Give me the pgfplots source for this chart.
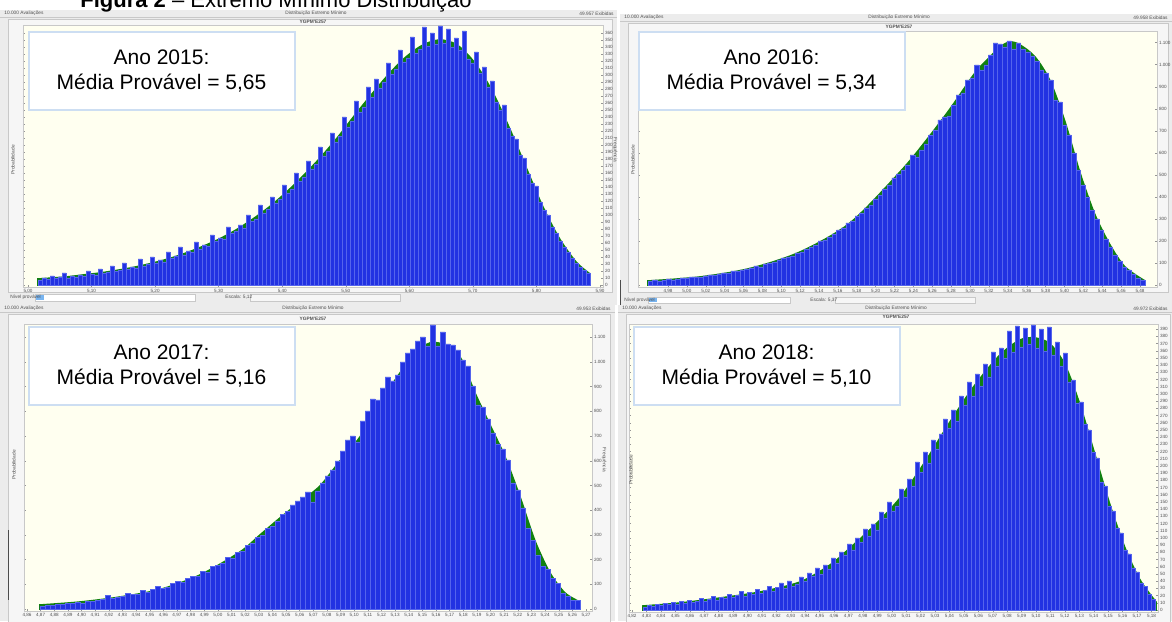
\documentclass[border=0pt]{standalone}
\usepackage{fontspec}
\setmainfont{Liberation Sans}
\usepackage{pgfplots}
\usepackage{pgfplotstable}
\pgfplotsset{compat=1.18}

\definecolor{barblue}{RGB}{34,50,226}
\definecolor{barsep}{RGB}{85,100,236}
\definecolor{fitgreen}{RGB}{16,128,16}
\definecolor{cream}{RGB}{255,255,240}
\definecolor{winbg}{RGB}{236,236,236}
\definecolor{innerbg}{RGB}{246,246,246}
\definecolor{framegray}{RGB}{200,200,200}
\definecolor{tickgray}{RGB}{150,150,150}
\definecolor{ticktext}{RGB}{80,80,80}
\definecolor{boxblue}{RGB}{205,222,242}
\definecolor{selblue}{RGB}{120,180,240}

\newcommand{\chrome}{\fontsize{2.4}{2.9}\selectfont\color{ticktext}}

% ---- data: bar heights (pixels above baseline) ----
\pgfplotstableread[row sep=\\]{h\\
5\\7\\6\\9\\7\\8\\12\\7\\9\\8\\
10\\9\\14\\11\\10\\16\\12\\13\\19\\14\\
15\\22\\16\\18\\17\\26\\19\\21\\28\\22\\
25\\23\\33\\27\\29\\38\\30\\34\\33\\43\\
36\\40\\39\\50\\44\\47\\46\\58\\52\\54\\
60\\57\\70\\64\\66\\80\\72\\76\\88\\82\\
86\\100\\92\\96\\112\\104\\108\\124\\116\\121\\
138\\129\\134\\152\\143\\149\\168\\158\\164\\184\\
173\\178\\198\\188\\206\\197\\203\\222\\211\\216\\
235\\223\\227\\248\\232\\236\\258\\239\\252\\241\\
259\\242\\256\\238\\247\\235\\254\\226\\222\\233\\
212\\218\\198\\204\\183\\175\\180\\157\\149\\146\\
130\\127\\111\\102\\99\\83\\75\\70\\58\\52\\
44\\38\\33\\27\\22\\18\\15\\12\\0\\
}\tabTL

\pgfplotstableread[row sep=\\]{h\\
4\\5\\4\\5\\6\\5\\6\\7\\7\\8\\
8\\8\\9\\10\\10\\11\\12\\12\\14\\14\\
15\\16\\17\\19\\18\\21\\22\\23\\25\\27\\
28\\29\\32\\33\\36\\38\\40\\44\\45\\48\\
51\\55\\57\\62\\64\\69\\72\\77\\80\\86\\
90\\96\\100\\107\\111\\
115\\120\\130\\128\\135\\141\\150\\155\\165\\168\\
169\\180\\190\\192\\205\\207\\220\\215\\220\\230\\
242\\241\\238\\244\\236\\242\\236\\233\\229\\224\\
215\\212\\205\\185\\183\\160\\150\\132\\115\\100\\
88\\75\\66\\55\\46\\38\\30\\24\\18\\15\\11\\7\\5\\0\\
}\tabTR

\pgfplotstableread[row sep=\\]{h\\
3\\4\\4\\5\\5\\6\\6\\7\\6\\8\\
8\\9\\10\\14\\11\\12\\13\\16\\15\\15\\
19\\17\\20\\23\\21\\22\\26\\28\\27\\31\\
33\\33\\38\\37\\43\\44\\46\\52\\51\\57\\
58\\64\\66\\72\\74\\81\\83\\88\\95\\98\\
104\\108\\
112\\117\\107\\118\\126\\133\\139\\148\\158\\169\\
173\\167\\188\\198\\210\\209\\221\\232\\228\\234\\
247\\256\\260\\268\\272\\263\\284\\263\\277\\265\\
264\\259\\249\\243\\223\\204\\202\\190\\176\\165\\
160\\149\\126\\119\\101\\81\\69\\54\\43\\40\\
31\\26\\16\\13\\9\\9\\0\\
}\tabBL

\pgfplotstableread[row sep=\\]{h\\
3\\5\\4\\6\\5\\7\\6\\8\\6\\9\\
7\\10\\8\\9\\12\\9\\11\\14\\10\\13\\
12\\16\\13\\15\\19\\14\\18\\16\\21\\17\\
20\\24\\19\\23\\27\\22\\29\\24\\26\\33\\
29\\37\\34\\42\\36\\45\\41\\52\\47\\58\\
55\\66\\60\\72\\68\\81\\74\\86\\80\\98\\
92\\108\\99\\104\\121\\113\\131\\124\\148\\138\\
158\\147\\170\\161\\176\\191\\182\\200\\189\\214\\
205\\228\\214\\236\\224\\246\\233\\258\\244\\262\\
252\\279\\258\\284\\263\\282\\266\\285\\262\\281\\
259\\283\\255\\268\\244\\257\\228\\230\\207\\208\\
186\\180\\158\\152\\128\\124\\104\\99\\82\\77\\
60\\56\\42\\38\\27\\24\\16\\11\\0\\
}\tabBR

\pgfplotsset{
  panel/.style={
    scale only axis, anchor=south west,
    axis background/.style={fill=cream},
    axis line style={draw=framegray, line width=0.4pt},
    tick style={draw=tickgray, line width=0.2pt},
    major tick length=1.2pt,
    xtick pos=left, ytick pos=both, yticklabel pos=right,
    scaled x ticks=false, scaled y ticks=false,
    tick label style={font=\fontsize{2.3}{2.8}\selectfont, text=ticktext},
    xticklabel style={inner sep=0.8pt},
    yticklabel style={inner sep=0.8pt},
    /pgf/number format/assume math mode=true,
    clip=true,
  },
  bars/.style={ybar interval, fill=barblue, draw=barsep, line width=0.12pt},
  fit/.style={fill=fitgreen, draw=fitgreen, line width=0.8pt, smooth},
}

\begin{document}
\begin{tikzpicture}
\path[use as bounding box] (0,0) rectangle (586pt,310.5pt);
\clip (0,0) rectangle (586pt,310.5pt);

% ---------- window chrome (pixel coordinates, y down) ----------
\begin{scope}[shift={(0pt,310.5pt)}, x=0.5pt, y=-0.5pt]
\fill[white] (0,0) rectangle (1172,621);
\fill[winbg] (0,10) rectangle (617,305);
\fill[winbg] (620,14) rectangle (1172,305);
\fill[winbg] (0,305) rectangle (615,621);
\fill[winbg] (618,305) rectangle (1172,621);
\draw[framegray, line width=0.3pt] (0,17.5) -- (617,17.5);
\draw[framegray, line width=0.3pt] (620,21.5) -- (1172,21.5);
\draw[framegray, line width=0.3pt] (0,312.5) -- (615,312.5);
\draw[framegray, line width=0.3pt] (618,312.5) -- (1172,312.5);
\filldraw[fill=innerbg, draw=framegray, line width=0.3pt] (8,19) rectangle (612,292);
\filldraw[fill=innerbg, draw=framegray, line width=0.3pt] (628,23) rectangle (1168,292);
\filldraw[fill=innerbg, draw=framegray, line width=0.3pt] (8,314) rectangle (610,625);
\filldraw[fill=innerbg, draw=framegray, line width=0.3pt] (626,314) rectangle (1170,625);
\draw[black!70, line width=0.5pt] (620,280) -- (620,305);
\draw[black!70, line width=0.5pt] (8,530) -- (8,600);
% bottom rows of the upper windows
\filldraw[fill=white, draw=framegray, line width=0.3pt] (35,294) rectangle (195,301);
\fill[selblue] (36,295) rectangle (44,300);
\filldraw[fill=innerbg, draw=framegray, line width=0.3pt] (250,294) rectangle (400,301);
\filldraw[fill=white, draw=framegray, line width=0.3pt] (648,297) rectangle (790,303);
\fill[selblue] (649,298) rectangle (657,302);
\filldraw[fill=innerbg, draw=framegray, line width=0.3pt] (835,297) rectangle (975,303);
\end{scope}

% ---------- 2015 ----------
\begin{axis}[panel, at={(11.5pt,167pt)}, width=290pt, height=131pt,
  xmin=23, xmax=603, ymin=-2, ymax=260,
  xtick={28,91.556,...,600.5},
  xticklabel={\pgfmathparse{5+(\tick-28)/635.56}\pgfmathprintnumber[fixed,fixed zerofill,precision=2,use comma]{\pgfmathresult}},
  ytick={0,7,...,252.5},
  yticklabel={\pgfmathparse{int(round(\tick/0.7))}\pgfmathprintnumber[1000 sep={.}]{\pgfmathresult}}]
\addplot[fit] coordinates {(38,6) (66,8) (83,10) (100,12) (117,14.6) (134,17.7) (151,21.5) (168,26) (185,31.6) (202,38.2) (219,45.8) (236,55) (253,66) (270,78.6) (287,93.3) (304,110) (321,128) (338,148) (355,170) (372,191) (389,211) (406,228) (423,240) (440,245) (457,240) (474,223) (491,196) (508,160) (525,120) (542,80) (559,47) (576,23) (590,11)} \closedcycle;
\addplot[bars] table[x expr={38+4*\coordindex}, y=h] {\tabTL};
\end{axis}

% ---------- 2016 ----------
\begin{axis}[panel, at={(319pt,167pt)}, width=259.5pt, height=128pt,
  xmin=638, xmax=1157, ymin=-2, ymax=254,
  xtick={668,686.88,...,1140.5},
  xticklabel={\pgfmathparse{4.98+(\tick-668)/944}\pgfmathprintnumber[fixed,fixed zerofill,precision=2,use comma]{\pgfmathresult}},
  ytick={0,22.03,...,243},
  yticklabel={\pgfmathparse{int(round(\tick/0.2203))}\pgfmathprintnumber[1000 sep={.}]{\pgfmathresult}}]
\addplot[fit] coordinates {(648,4) (700,8) (750,16.5) (800,33) (850,62) (900,113) (925,143) (950,176) (975,212) (990,228) (1000,238) (1010,243) (1020,240) (1035,228) (1050,204) (1065,163) (1080,112) (1095,70) (1110,40) (1125,18) (1145,4)} \closedcycle;
\addplot[bars] table[x expr={648+4.6*\coordindex}, y=h] {\tabTR};
\end{axis}

% ---------- 2017 ----------
\begin{axis}[panel, at={(12pt,5pt)}, width=284pt, height=143.5pt,
  xmin=24, xmax=592, ymin=-2, ymax=285,
  xtick={27,40.634,...,586.5},
  xticklabel={\pgfmathparse{4.86+(\tick-27)/1363.4}\pgfmathprintnumber[fixed,fixed zerofill,precision=2,use comma]{\pgfmathresult}},
  ytick={0,24.7,...,272},
  yticklabel={\pgfmathparse{int(round(\tick/0.247))}\pgfmathprintnumber[1000 sep={.}]{\pgfmathresult}}]
\addplot[fit] coordinates {(40,4) (80,7) (120,12) (160,19.5) (200,34) (240,57) (260,74) (280,91) (300,107) (320,123) (340,148) (360,172) (380,206) (400,236) (415,256) (430,266) (445,264) (460,252) (475,216) (490,184) (505,152) (520,112) (535,68) (550,36) (565,16) (580,7)} \closedcycle;
\addplot[bars] table[x expr={40+5*\coordindex}, y=h] {\tabBL};
\end{axis}

% ---------- 2018 ----------
\begin{axis}[panel, at={(314.5pt,4.5pt)}, width=264.5pt, height=144pt,
  xmin=629, xmax=1158, ymin=-2, ymax=286,
  xtick={632,646.43,...,1158},
  xticklabel={\pgfmathparse{4.82+(\tick-632)/1443}\pgfmathprintnumber[fixed,fixed zerofill,precision=2,use comma]{\pgfmathresult}},
  ytick={0,7.2,...,285},
  yticklabel={\pgfmathparse{int(round(\tick/0.72))}\pgfmathprintnumber[1000 sep={.}]{\pgfmathresult}}]
\addplot[fit] coordinates {(643,4) (680,7) (720,12) (760,18) (800,28) (830,45) (850,62) (875,85) (900,112) (925,148) (950,188) (975,225) (1000,255) (1020,270) (1035,272) (1050,266) (1065,245) (1080,205) (1095,155) (1110,105) (1125,62) (1140,30) (1156,8)} \closedcycle;
\addplot[bars] table[x expr={643+4*\coordindex}, y=h] {\tabBR};
\end{axis}

% ---------- text on top ----------
\begin{scope}[shift={(0pt,310.5pt)}, x=0.5pt, y=-0.5pt]
% strips
\node[anchor=west, inner sep=0] at (4,13.5) {\chrome 10.000 Avaliações};
\node[inner sep=0] at (316,13.5) {\chrome Distribuição Extremo Mínimo};
\node[anchor=east, inner sep=0] at (614,13.5) {\chrome 49.957 Exibidas};
\node[inner sep=0] at (313,22) {\chrome\bfseries YGPM'E257};
\node[anchor=west, inner sep=0] at (624,17.5) {\chrome 10.000 Avaliações};
\node[inner sep=0] at (899,17.5) {\chrome Distribuição Extremo Mínimo};
\node[anchor=east, inner sep=0] at (1168,17.5) {\chrome 49.958 Exibidas};
\node[inner sep=0] at (899,26.5) {\chrome\bfseries YGPM'E257};
\node[anchor=west, inner sep=0] at (4,308.5) {\chrome 10.000 Avaliações};
\node[inner sep=0] at (313,308.5) {\chrome Distribuição Extremo Mínimo};
\node[anchor=east, inner sep=0] at (611,308.5) {\chrome 49.953 Exibidas};
\node[inner sep=0] at (313,318.5) {\chrome\bfseries YGPM'E257};
\node[anchor=west, inner sep=0] at (622,308.5) {\chrome 10.000 Avaliações};
\node[inner sep=0] at (896,308.5) {\chrome Distribuição Extremo Mínimo};
\node[anchor=east, inner sep=0] at (1168,308.5) {\chrome 49.972 Exibidas};
\node[inner sep=0] at (896,317) {\chrome\bfseries YGPM'E257};
% bottom rows
\node[anchor=west, inner sep=0] at (10,297.5) {\chrome Nível provável};
\node[anchor=west, inner sep=0] at (225,297.5) {\chrome Escala: 5,12};
\node[anchor=west, inner sep=0] at (624,300) {\chrome Nível provável};
\node[anchor=west, inner sep=0] at (810,300) {\chrome Escala: 5,37};
% axis side labels
\node[rotate=90, inner sep=0] at (13,160) {\chrome Probabilidade};
\node[rotate=90, inner sep=0] at (633,160) {\chrome Probabilidade};
\node[rotate=90, inner sep=0] at (14,465) {\chrome Probabilidade};
\node[rotate=90, inner sep=0] at (631,470) {\chrome Probabilidade};
\node[rotate=-90, inner sep=0] at (615,150) {\chrome Frequência};
\node[rotate=-90, inner sep=0] at (604,460) {\chrome Frequência};
% year boxes
\tikzset{yearbox/.style={draw=boxblue, line width=1pt, fill=white, minimum width=133pt, minimum height=39pt, align=center, inner sep=0pt, font=\fontsize{10.5}{12.5}\selectfont}}
\node[yearbox] at (161.5,71) {Ano 2015:\\Média Provável = 5,65};
\node[yearbox] at (771.5,71) {Ano 2016:\\Média Provável = 5,34};
\node[yearbox] at (161.5,366) {Ano 2017:\\Média Provável = 5,16};
\node[yearbox] at (766.5,366) {Ano 2018:\\Média Provável = 5,10};
% figure title (cut at the top edge as in the source)
\node[anchor=base west, inner sep=0, font=\fontsize{11}{13}\selectfont] at (80,8) {\textbf{Figura 2} – Extremo Mínimo Distribuição};
\end{scope}
\end{tikzpicture}
\end{document}
